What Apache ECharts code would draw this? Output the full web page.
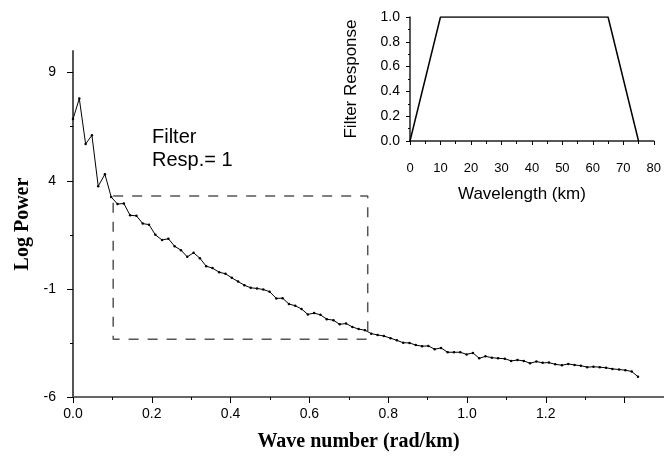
<!DOCTYPE html>
<html>
<head>
<meta charset="utf-8">
<script src="https://cdn.jsdelivr.net/npm/echarts@6/dist/echarts.min.js"></script>
<style>
  html, body { margin: 0; padding: 0; background: #fff; }
  #chart { width: 664px; height: 462px; }
</style>
</head>
<body>
<div id="chart"></div>
<script>
// 波数 (rad/km)
const waveNumber = [
  0, 0.016, 0.032, 0.048, 0.064, 0.081, 0.097, 0.113, 0.129, 0.145,
  0.161, 0.177, 0.193, 0.209, 0.226, 0.242, 0.258, 0.274, 0.290, 0.306,
  0.322, 0.338, 0.354, 0.371, 0.387, 0.403, 0.419, 0.435, 0.451, 0.467,
  0.483, 0.499, 0.516, 0.532, 0.548, 0.564, 0.580, 0.596, 0.612, 0.628,
  0.644, 0.661, 0.677, 0.693, 0.709, 0.725, 0.741, 0.757, 0.773, 0.789,
  0.806, 0.822, 0.838, 0.854, 0.870, 0.886, 0.902, 0.918, 0.934, 0.951,
  0.967, 0.983, 0.999, 1.015, 1.031, 1.047, 1.063, 1.079, 1.096, 1.112,
  1.128, 1.144, 1.160, 1.176, 1.192, 1.208, 1.224, 1.241, 1.257, 1.273,
  1.289, 1.305, 1.321, 1.337, 1.353, 1.369, 1.386, 1.402, 1.418, 1.434
]
// 对数功率
const logPower = [
  6.85, 7.8, 5.7, 6.1, 3.75, 4.3, 3.25, 2.92, 2.95, 2.4,
  2.38, 2.02, 1.97, 1.5, 1.26, 1.32, 0.97, 0.79, 0.48, 0.67,
  0.42, 0.05, -0.04, -0.23, -0.3, -0.49, -0.66, -0.83, -0.95, -0.98,
  -1.03, -1.13, -1.44, -1.43, -1.7, -1.78, -1.93, -2.18, -2.12, -2.2,
  -2.4, -2.45, -2.64, -2.6, -2.76, -2.86, -2.91, -3.07, -3.13, -3.18,
  -3.28, -3.38, -3.49, -3.5, -3.6, -3.65, -3.64, -3.79, -3.73, -3.93,
  -3.93, -3.93, -4.03, -3.96, -4.21, -4.12, -4.18, -4.21, -4.23, -4.33,
  -4.29, -4.33, -4.44, -4.36, -4.42, -4.41, -4.49, -4.53, -4.47, -4.52,
  -4.55, -4.62, -4.6, -4.62, -4.65, -4.7, -4.73, -4.76, -4.82, -5.06
]
// 虚线框范围（滤波器响应 = 1）
const boxWave = [0.102, 0.748]
const boxPower = [-3.33, 3.3]
// 小图：滤波器响应
const filterWavelength = [0, 10, 65, 75]
const filterResponse = [0, 1, 1, 0]
// 主图刻度
const waveLabels = [0, 0.2, 0.4, 0.6, 0.8, 1.0, 1.2]
const powerTicks = [-6, -1, 4, 9]
const powerMinorTicks = [-3.5, 1.5, 6.5]

const sans = 'Liberation Sans'
const serif = 'Liberation Serif'

const mainData = waveNumber.map((k, i) => [k, logPower[i]])
const boxData = [
  [boxWave[0], boxPower[1]], [boxWave[1], boxPower[1]],
  [boxWave[1], boxPower[0]], [boxWave[0], boxPower[0]],
  [boxWave[0], boxPower[1]]
]
const filterData = filterWavelength.map((w, i) => [w, filterResponse[i]])

const chart = echarts.init(document.getElementById('chart'))
chart.setOption({
  animation: false,
  backgroundColor: '#fff',
  grid: [
    { left: 73, right: -1.5, top: 51, bottom: 65 },
    { left: 410, right: 8, top: 17, bottom: 321 }
  ],
  xAxis: [
    {
      gridIndex: 0, type: 'value', min: 0, max: 1.5, interval: 0.2,
      name: 'Wave number (rad/km)', nameLocation: 'middle', nameGap: 35,
      nameTextStyle: { fontFamily: serif, fontWeight: 'bold', fontSize: 20, color: '#000', padding: [0, 20, 0, 0] },
      axisLine: { onZero: false, lineStyle: { color: '#666', width: 2 } },
      axisTick: { length: 6, lineStyle: { color: '#000' } },
      minorTick: { show: true, splitNumber: 2, length: 3, lineStyle: { color: '#000' } },
      splitLine: { show: false },
      axisLabel: {
        customValues: waveLabels, margin: 10, fontFamily: sans, fontSize: 14, color: '#000',
        formatter: v => v.toFixed(1)
      }
    },
    {
      gridIndex: 1, type: 'value', min: 0, max: 80, interval: 10,
      name: 'Wavelength (km)', nameLocation: 'middle', nameGap: 45,
      nameTextStyle: { fontFamily: sans, fontSize: 17, color: '#000', padding: [0, 20, 0, 0] },
      axisLine: { onZero: false, lineStyle: { color: '#222', width: 1.5 } },
      axisTick: { length: 4, lineStyle: { color: '#000' } },
      minorTick: { show: true, splitNumber: 2, length: 3, lineStyle: { color: '#000' } },
      splitLine: { show: false },
      axisLabel: { margin: 21, fontFamily: sans, fontSize: 13, color: '#000' }
    }
  ],
  yAxis: [
    {
      gridIndex: 0, type: 'value', position: 'left', min: -6, max: 10,
      name: 'Log Power', nameLocation: 'middle', nameGap: 33,
      nameTextStyle: { fontFamily: serif, fontWeight: 'bold', fontSize: 20, color: '#000' },
      axisLine: { show: true, onZero: false, lineStyle: { color: '#555', width: 2 } },
      axisTick: { show: true, customValues: powerTicks, length: 6, lineStyle: { color: '#000' } },
      splitLine: { show: false },
      axisLabel: { customValues: powerTicks, margin: 17, fontFamily: sans, fontSize: 14, color: '#000' }
    },
    {
      // 次刻度
      gridIndex: 0, type: 'value', position: 'left', min: -6, max: 10,
      axisLine: { show: false, onZero: false },
      axisTick: { show: true, customValues: powerMinorTicks, length: 3, lineStyle: { color: '#000' } },
      splitLine: { show: false },
      axisLabel: { show: false }
    },
    {
      gridIndex: 1, type: 'value', min: 0, max: 1, interval: 0.2,
      name: 'Filter Response', nameLocation: 'middle', nameGap: 50,
      nameTextStyle: { fontFamily: sans, fontSize: 17, color: '#000' },
      axisLine: { show: true, onZero: false, lineStyle: { color: '#222', width: 1.5 } },
      axisTick: { show: true, length: 4, lineStyle: { color: '#000' } },
      minorTick: { show: true, splitNumber: 2, length: 2, lineStyle: { color: '#000' } },
      splitLine: { show: false },
      axisLabel: { margin: 10, fontFamily: sans, fontSize: 14, color: '#000', formatter: v => v.toFixed(1) }
    }
  ],
  graphic: [
    {
      type: 'text', left: 152, top: 126,
      style: { text: 'Filter\nResp.= 1', fontFamily: sans, fontSize: 20, lineHeight: 23, fill: '#000' }
    }
  ],
  series: [
    {
      type: 'line', xAxisIndex: 0, yAxisIndex: 0, data: mainData,
      symbol: 'circle', symbolSize: 2.5, showSymbol: true,
      itemStyle: { color: '#000' },
      lineStyle: { color: '#000', width: 1 }
    },
    {
      type: 'line', xAxisIndex: 0, yAxisIndex: 0, data: boxData,
      symbol: 'none',
      lineStyle: { color: '#555', width: 1.5, type: [10, 9] }
    },
    {
      type: 'line', xAxisIndex: 1, yAxisIndex: 2, data: filterData,
      symbol: 'none',
      lineStyle: { color: '#000', width: 1.5 }
    }
  ]
})
</script>
</body>
</html>
